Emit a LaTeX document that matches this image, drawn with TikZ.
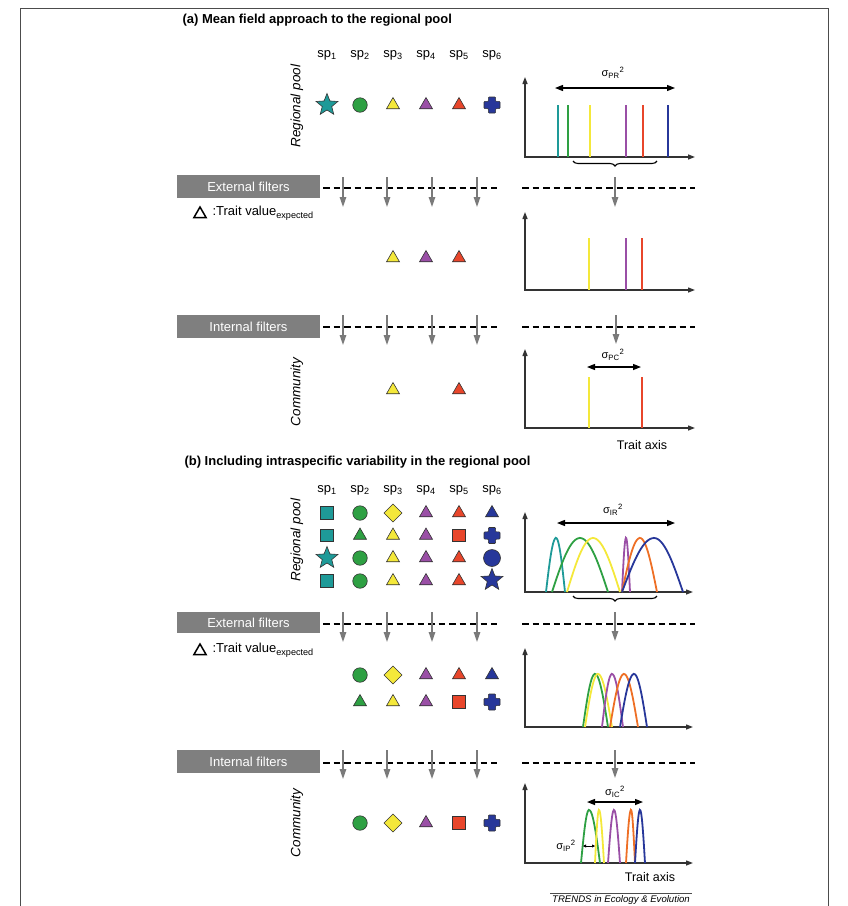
\documentclass[tikz,border=0pt]{standalone}
\usepackage{fontspec}
\setmainfont{Liberation Sans}
\usetikzlibrary{shapes.geometric,arrows.meta,decorations.pathreplacing}
\definecolor{cteal}{HTML}{1E9A98}
\definecolor{cgreen}{HTML}{2EA043}
\definecolor{cyellow}{HTML}{F4E83A}
\definecolor{cpurple}{HTML}{9A4FA6}
\definecolor{cred}{HTML}{E8462B}
\definecolor{cblue}{HTML}{27379A}
\definecolor{corange}{HTML}{EE6F25}
\definecolor{fgray}{HTML}{7F7F7F}
\definecolor{agray}{HTML}{7A7A7A}
\definecolor{axcol}{HTML}{333333}
\tikzset{
  sym/.style={draw=black!80, line width=0.6pt, inner sep=0pt, outer sep=0pt},
  tri/.style={sym, regular polygon, regular polygon sides=3, minimum size=15pt, fill=#1},
  sqr/.style={sym, rectangle, minimum size=12.5pt, fill=#1},
  circ/.style={sym, circle, minimum size=14.5pt, fill=#1},
  bigcirc/.style={sym, circle, minimum size=17pt, fill=#1},
  dia/.style={sym, diamond, minimum size=18pt, fill=#1},
  starr/.style={sym, star, star points=5, star point ratio=2.3, minimum size=23pt, fill=#1},
  pics/plus/.style={code={\filldraw[fill=#1,draw=black!80,line width=0.6pt,rounded corners=0.8pt]
     (-3.6,-8) -- (3.6,-8) -- (3.6,-3.6) -- (8,-3.6) -- (8,3.6) -- (3.6,3.6) -- (3.6,8)
     -- (-3.6,8) -- (-3.6,3.6) -- (-8,3.6) -- (-8,-3.6) -- (-3.6,-3.6) -- cycle;}},
  filterbox/.style={fill=fgray, text=white, font=\fontsize{13}{15}\selectfont, inner sep=0pt},
  dashline/.style={line width=1.4pt, dash pattern=on 6.5pt off 4pt},
  farrow/.style={agray, line width=1.3pt, -{Triangle[length=10pt,width=6.5pt]}},
  axis/.style={axcol, line width=1.3pt, {Triangle[length=7pt,width=5pt]}-{Triangle[length=7pt,width=5pt]}},
  bar/.style={line width=2pt},
  curve/.style={line width=1.8pt},
  sigarrow/.style={line width=1.3pt, {Triangle[length=8pt,width=6pt]}-{Triangle[length=8pt,width=6pt]}},
  splabel/.style={font=\fontsize{13}{15}\selectfont},
  rotlabel/.style={font=\fontsize{13.5}{15}\selectfont\itshape, rotate=90},
  title/.style={font=\fontsize{13}{15}\selectfont\bfseries, anchor=west},
  small/.style={font=\fontsize{11}{13}\selectfont},
  tvtext/.style={font=\fontsize{13}{15}\selectfont, anchor=west},
  brc/.style={line width=1.1pt, decorate, decoration={brace, amplitude=5pt, mirror}},
}
\newcommand\bump[6]{%
  \draw[curve,#1] plot[domain=0:90,samples=18] ({#2+(#3-#2)*\x/90},{#5-(#5-#6)*sin(\x)})
   -- plot[domain=0:90,samples=18] ({#3+(#4-#3)*\x/90},{#5-(#5-#6)*cos(\x)});}
\begin{document}
\begin{tikzpicture}[x=1pt,y=-1pt]
\useasboundingbox (0,0) rectangle (848,906);
% frame
\draw[black!70, line width=0.8pt] (20,906) -- (20,8) -- (828,8) -- (828,906);

% ================= (a) =================
\node[title] (ta) at (179,20) {(a) Mean field approach to the regional pool};
\foreach \i/\xx in {1/327,2/360,3/393,4/426,5/459,6/492}
  \node[splabel] (asp\i) at (\xx,55) {sp\textsubscript{\i}};
\node[rotlabel] (arp) at (297,106) {Regional pool};
\node[starr=cteal] (a11) at (327,105) {};
\node[circ=cgreen] (a12) at (360,105) {};
\node[tri=cyellow] (a13) at (393,105) {};
\node[tri=cpurple] (a14) at (426,105) {};
\node[tri=cred] (a15) at (459,105) {};
\pic at (492,105) {plus=cblue};

% plot a1
\draw[axis] (525,77) |- (695,157);
\foreach \xx/\cc in {557.7/cteal,567.7/cgreen,590/cyellow,626/cpurple,642.7/cred,667.7/cblue}
  \draw[bar,\cc] (\xx,157) -- (\xx,105);
\coordinate (pr1) at (555,88); \coordinate (pr2) at (675,88);
\draw[sigarrow] (pr1) -- (pr2);
\node[small] (spr) at (613,73) {σ\textsubscript{PR}\textsuperscript{2}};
\draw[brc] (573,161) -- (657,161);

% external filters a
\node[filterbox, minimum width=143pt, minimum height=23pt] (efa) at (248.5,186.5) {External filters};
\draw[dashline] (323,188) -- (497,188);
\draw[dashline] (522,188) -- (695,188);
\foreach \xx in {343,387,432,477} \draw[farrow] (\xx,177) -- (\xx,207);
\draw[farrow] (615,177) -- (615,207);
\node[sym, draw=black, line width=1.5pt, fill=white, regular polygon, regular polygon sides=3, minimum size=14pt] (tva) at (200,214) {};
\node[tvtext] (tvta) at (209,213) {:Trait value\textsubscript{expected}};

\node[tri=cyellow] (a23) at (393,258) {};
\node[tri=cpurple] (a24) at (426,258) {};
\node[tri=cred] (a25) at (459,258) {};

% plot a2
\draw[axis] (525,212) |- (695,290);
\foreach \xx/\cc in {589/cyellow,626/cpurple,642/cred}
  \draw[bar,\cc] (\xx,290) -- (\xx,238);

% internal filters a
\node[filterbox, minimum width=143pt, minimum height=23pt] (ifa) at (248.5,326.5) {Internal filters};
\draw[dashline] (323,327) -- (497,327);
\draw[dashline] (522,327) -- (695,327);
\foreach \xx in {343,387,432,477} \draw[farrow] (\xx,315) -- (\xx,345);
\draw[farrow] (616,315) -- (616,344);

\node[rotlabel] (acom) at (297,392) {Community};
\node[tri=cyellow] (a33) at (393,390) {};
\node[tri=cred] (a35) at (459,390) {};

% plot a3
\draw[axis] (525,349) |- (695,428);
\foreach \xx/\cc in {589/cyellow,642/cred}
  \draw[bar,\cc] (\xx,428) -- (\xx,377);
\coordinate (pc1) at (587,367); \coordinate (pc2) at (641,367);
\draw[sigarrow] (pc1) -- (pc2);
\node[small] (spc) at (613,355) {σ\textsubscript{PC}\textsuperscript{2}};
\node[font=\fontsize{12.5}{14}\selectfont] (taa) at (642,445) {Trait axis};

% ================= (b) =================
\node[title] (tb) at (181,462) {(b) Including intraspecific variability in the regional pool};
\foreach \i/\xx in {1/327,2/360,3/393,4/426,5/459,6/492}
  \node[splabel] (bsp\i) at (\xx,490) {sp\textsubscript{\i}};
\node[rotlabel] (brp) at (297,540) {Regional pool};
% row 1
\node[sqr=cteal] (b11) at (327,513) {};
\node[circ=cgreen] (b12) at (360,513) {};
\node[dia=cyellow] (b13) at (393,513) {};
\node[tri=cpurple] (b14) at (426,513) {};
\node[tri=cred] (b15) at (459,513) {};
\node[tri=cblue] (b16) at (492,513) {};
% row 2
\node[sqr=cteal] (b21) at (327,535.5) {};
\node[tri=cgreen] (b22) at (360,535.5) {};
\node[tri=cyellow] (b23) at (393,535.5) {};
\node[tri=cpurple] (b24) at (426,535.5) {};
\node[sqr=cred] (b25) at (459,535.5) {};
\pic at (492,535.5) {plus=cblue};
% row 3
\node[starr=cteal] (b31) at (327,558) {};
\node[circ=cgreen] (b32) at (360,558) {};
\node[tri=cyellow] (b33) at (393,558) {};
\node[tri=cpurple] (b34) at (426,558) {};
\node[tri=cred] (b35) at (459,558) {};
\node[bigcirc=cblue] (b36) at (492,558) {};
% row 4
\node[sqr=cteal] (b41) at (327,581) {};
\node[circ=cgreen] (b42) at (360,581) {};
\node[tri=cyellow] (b43) at (393,581) {};
\node[tri=cpurple] (b44) at (426,581) {};
\node[tri=cred] (b45) at (459,581) {};
\node[starr=cblue] (b46) at (492,580) {};

% plot b1
\draw[axis] (525,512) |- (693,592);
\bump{cteal}{546}{556}{565}{592}{538}
\bump{cgreen}{552}{580}{608}{592}{538}
\bump{cyellow}{567}{593}{620}{592}{538}
\bump{cpurple}{622}{626}{630}{592}{538}
\bump{corange}{622}{640}{657}{592}{538}
\bump{cblue}{622}{654}{683}{592}{538}
\coordinate (ir1) at (557,523); \coordinate (ir2) at (675,523);
\draw[sigarrow] (ir1) -- (ir2);
\node[small] (sir) at (613,510) {σ\textsubscript{IR}\textsuperscript{2}};
\draw[brc] (573,596) -- (657,596);

% external filters b
\node[filterbox, minimum width=143pt, minimum height=21pt] (efb) at (248.5,622.5) {External filters};
\draw[dashline] (323,624) -- (497,624);
\draw[dashline] (522,624) -- (695,624);
\foreach \xx in {343,387,432,477} \draw[farrow] (\xx,612) -- (\xx,642);
\draw[farrow] (615,612) -- (615,641);
\node[sym, draw=black, line width=1.5pt, fill=white, regular polygon, regular polygon sides=3, minimum size=14pt] (tvb) at (200,651) {};
\node[tvtext] (tvtb) at (209,650) {:Trait value\textsubscript{expected}};

\node[circ=cgreen] (b52) at (360,675) {};
\node[dia=cyellow] (b53) at (393,675) {};
\node[tri=cpurple] (b54) at (426,675) {};
\node[tri=cred] (b55) at (459,675) {};
\node[tri=cblue] (b56) at (492,675) {};
\node[tri=cgreen] (b62) at (360,702) {};
\node[tri=cyellow] (b63) at (393,702) {};
\node[tri=cpurple] (b64) at (426,702) {};
\node[sqr=cred] (b65) at (459,702) {};
\pic at (492,702) {plus=cblue};

% plot b2
\draw[axis] (525,648) |- (693,727);
\bump{cgreen}{583}{595}{608}{727}{674}
\bump{cyellow}{585}{598}{612}{727}{674}
\bump{cpurple}{602}{612}{623}{727}{674}
\bump{corange}{610}{624}{638}{727}{674}
\bump{cblue}{620}{634}{647}{727}{674}

% internal filters b
\node[filterbox, minimum width=143pt, minimum height=23pt] (ifb) at (248.5,761.5) {Internal filters};
\draw[dashline] (323,763) -- (497,763);
\draw[dashline] (522,763) -- (695,763);
\foreach \xx in {343,387,432,477} \draw[farrow] (\xx,750) -- (\xx,779);
\draw[farrow] (615,750) -- (615,778);

\node[rotlabel] (bcom) at (297,823) {Community};
\node[circ=cgreen] (b72) at (360,823) {};
\node[dia=cyellow] (b73) at (393,823) {};
\node[tri=cpurple] (b74) at (426,823) {};
\node[sqr=cred] (b75) at (459,823) {};
\pic at (492,823) {plus=cblue};

% plot b3
\draw[axis] (525,783) |- (693,863);
\bump{cgreen}{581}{589}{600}{863}{810}
\bump{cyellow}{595}{599}{604}{863}{810}
\bump{cpurple}{608}{614}{620}{863}{810}
\bump{corange}{626}{631}{635}{863}{810}
\bump{cblue}{635}{640}{645}{863}{810}
\coordinate (ic1) at (587,802); \coordinate (ic2) at (643,802);
\draw[sigarrow] (ic1) -- (ic2);
\node[small] (sic) at (615,792) {σ\textsubscript{IC}\textsuperscript{2}};
\coordinate (ip1) at (583,846); \coordinate (ip2) at (595,846);
\draw[line width=0.8pt, {Triangle[length=3pt,width=3pt]}-{Triangle[length=3pt,width=3pt]}] (ip1) -- (ip2);
\node[small] (sip) at (566,846) {σ\textsubscript{IP}\textsuperscript{2}};
\node[font=\fontsize{12.5}{14}\selectfont] (tab) at (650,877) {Trait axis};
\draw[black!70, line width=0.7pt] (550,893) -- (692,893);
\node[font=\fontsize{9.6}{10}\selectfont\itshape] (trends) at (621,900) {TRENDS in Ecology \& Evolution};
\end{tikzpicture}
\end{document}
